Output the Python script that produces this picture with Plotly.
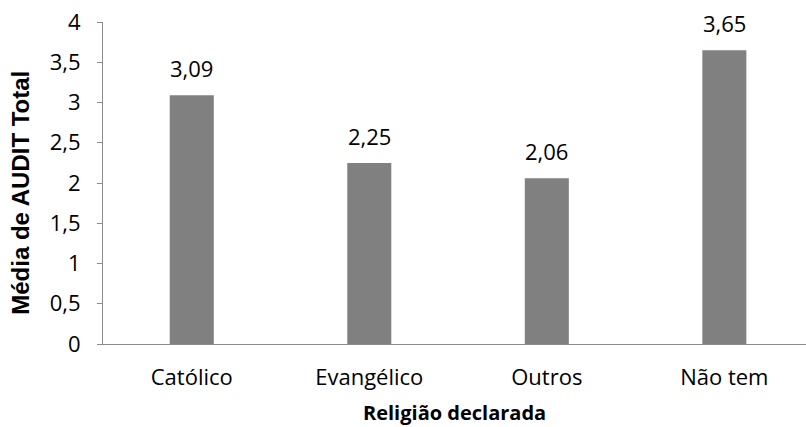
import plotly.graph_objects as go

categories = ["Católico", "Evangélico", "Outros", "Não tem"]
values = [3.09, 2.25, 2.06, 3.65]
labels = ["3,09", "2,25", "2,06", "3,65"]

FONT = "'Open Sans', Lato, sans-serif"
FS = 22

fig = go.Figure()
fig.add_trace(go.Bar(
    x=categories, y=values, width=0.248,
    marker=dict(color="#808080", line=dict(width=0)),
    hoverinfo="skip",
))

for c, v, t in zip(categories, values, labels):
    fig.add_annotation(x=c, y=v, text=t, showarrow=False, yshift=27,
                       yanchor="middle", xanchor="center",
                       font=dict(family=FONT, size=FS, color="#000000"))

fig.add_annotation(xref="paper", yref="paper", x=0.5, y=-0.214,
                   text="<b>Religião declarada</b>", showarrow=False,
                   xanchor="center", yanchor="middle",
                   font=dict(family=FONT, size=20, color="#000000"))
fig.add_annotation(xref="paper", yref="paper", x=-0.117, y=0.469,
                   text="<b>Média de AUDIT Total</b>", showarrow=False,
                   textangle=-90, xanchor="center", yanchor="middle",
                   font=dict(family="'Liberation Sans', Arial, sans-serif",
                             size=24, color="#000000"))

fig.update_layout(
    width=806, height=427,
    margin=dict(l=103, r=0, t=22, b=83),
    paper_bgcolor="white", plot_bgcolor="white",
    separators=", ",
    showlegend=False,
    font=dict(family=FONT, size=FS, color="#000000"),
    xaxis=dict(range=[-0.5, 3.46], showline=True, linecolor="#8c8c8c",
               linewidth=1, ticks="", showgrid=False, zeroline=False,
               tickfont=dict(size=FS), ticklabelstandoff=14),
    yaxis=dict(range=[0, 4], dtick=0.5, tick0=0, showline=True,
               linecolor="#8c8c8c", linewidth=1, ticks="outside",
               ticklen=5, tickcolor="#8c8c8c", showgrid=False,
               zeroline=False, tickfont=dict(size=FS), ticklabelstandoff=12),
)

fig.write_html("out.html")
